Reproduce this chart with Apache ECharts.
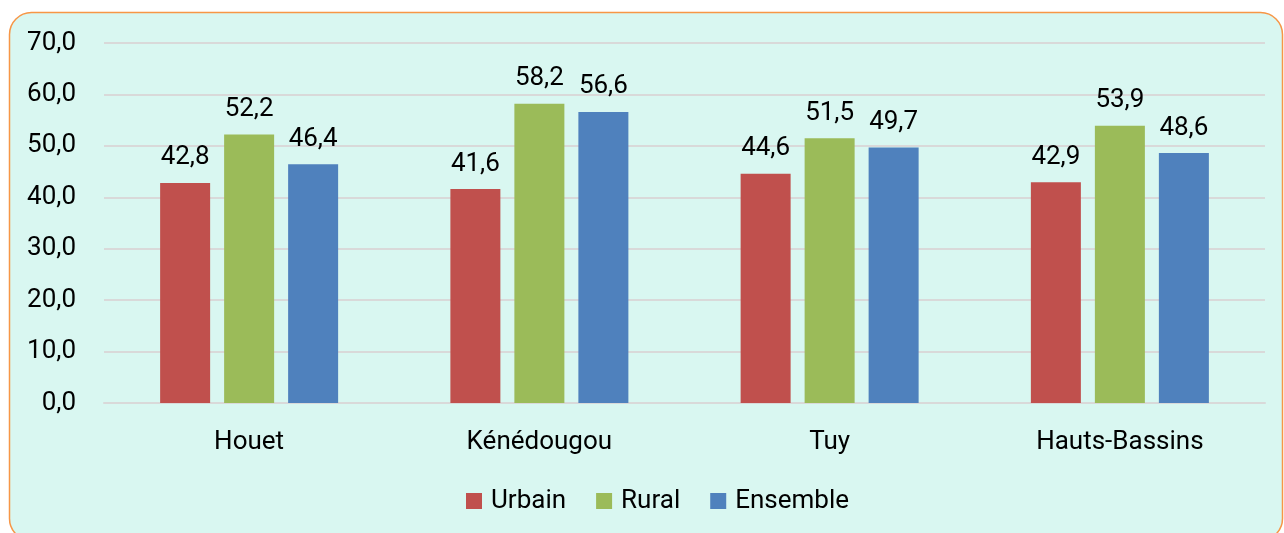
<!DOCTYPE html>
<html><head><meta charset="utf-8">
<script src="https://cdn.jsdelivr.net/npm/echarts@6/dist/echarts.min.js"></script>
<style>html,body{margin:0;padding:0;background:#fff;}#c{width:1284px;height:533px;}</style>
</head><body><div id="c"></div>
<script>
const categories = ['Houet', 'Kénédougou', 'Tuy', 'Hauts-Bassins'];
const urbain = [42.8, 41.6, 44.6, 42.9];
const rural = [52.2, 58.2, 51.5, 53.9];
const ensemble = [46.4, 56.6, 49.7, 48.6];
const seriesNames = ['Urbain', 'Rural', 'Ensemble'];
const colors = ['#C0504D', '#9BBB59', '#4F81BD'];

const fmt = v => v.toFixed(1).replace('.', ',');
const font = 'Roboto, "Noto Sans", sans-serif';
const FS = 26;
const chart = echarts.init(document.getElementById('c'), null, {renderer: 'canvas'});
const mk = (name, data, color) => ({
  name, type: 'bar', data, barWidth: 50, barGap: '28%',
  itemStyle: {color},
  label: {show: true, position: 'top', distance: 12, color: '#000', fontSize: FS, fontFamily: font,
    formatter: p => fmt(p.value)}
});
chart.setOption({
  backgroundColor: '#fff',
  animation: false,
  graphic: [{
    type: 'rect', z: -10, silent: true,
    shape: {x: 9.5, y: 12.5, width: 1273, height: 528, r: 22},
    style: {fill: '#D9F7F1', stroke: '#F79646', lineWidth: 1.5}
  }],
  grid: {left: 104, right: 19, top: 43, bottom: 130, containLabel: false},
  legend: {
    data: seriesNames, top: 483, left: 461, itemWidth: 16, itemHeight: 16, itemGap: 30,
    icon: 'rect', textStyle: {fontSize: FS, fontFamily: font, color: '#000', padding: [0, 0, 0, 4]}
  },
  xAxis: {
    type: 'category', data: categories,
    axisLine: {lineStyle: {color: '#D9D9D9', width: 2}},
    axisTick: {show: false},
    axisLabel: {fontSize: FS, fontFamily: font, color: '#000', margin: 26}
  },
  yAxis: {
    type: 'value', min: 0, max: 70, interval: 10,
    axisLine: {show: false}, axisTick: {show: false},
    splitLine: {lineStyle: {color: '#D9D9D9', width: 2}},
    axisLabel: {fontSize: FS, fontFamily: font, color: '#000', margin: 28, formatter: v => fmt(v)}
  },
  series: [mk(seriesNames[0], urbain, colors[0]), mk(seriesNames[1], rural, colors[1]), mk(seriesNames[2], ensemble, colors[2])]
});
</script></body></html>
